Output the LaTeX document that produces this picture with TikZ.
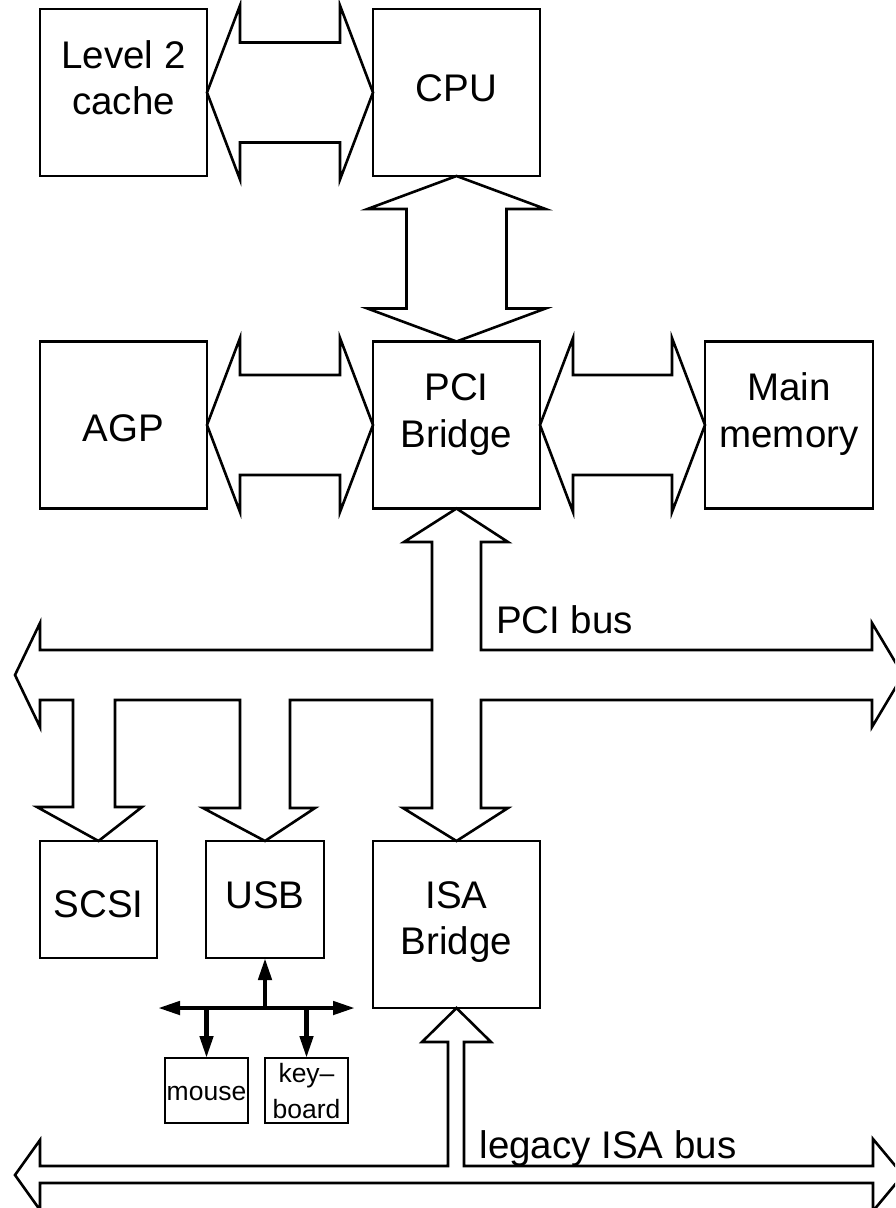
\documentclass[tikz,border=0pt]{standalone}
\usepackage{fontspec}
\setmainfont{Liberation Sans}
\usetikzlibrary{calc,arrows.meta}

% horizontal double block arrow between two anchors on the same height
\newcommand\hblock[2]{%
  \draw[blk] let \p1=(#1), \p2=(#2) in
    (\p1) -- (\x1+33pt,\y1+87pt) -- (\x1+33pt,\y1+50pt) -- (\x2-33pt,\y1+50pt)
    -- (\x2-33pt,\y1+87pt) -- (\p2) -- (\x2-33pt,\y1-87pt) -- (\x2-33pt,\y1-50pt)
    -- (\x1+33pt,\y1-50pt) -- (\x1+33pt,\y1-87pt) -- cycle;}
% vertical double block arrow, first anchor above the second
\newcommand\vblock[2]{%
  \draw[blk] let \p1=(#1), \p2=(#2) in
    (\p1) -- (\x1+89pt,\y1-33pt) -- (\x1+50pt,\y1-33pt) -- (\x1+50pt,\y2+33pt)
    -- (\x1+89pt,\y2+33pt) -- (\p2) -- (\x1-89pt,\y2+33pt) -- (\x1-50pt,\y2+33pt)
    -- (\x1-50pt,\y1-33pt) -- (\x1-89pt,\y1-33pt) -- cycle;}

\begin{document}
\begin{tikzpicture}[x=1pt,y=-1pt,
  box/.style={draw, line width=2.6pt, inner sep=0pt, outer sep=0pt,
    minimum width=167pt, minimum height=167pt},
  sbox/.style={box, minimum width=83pt, minimum height=65pt},
  blk/.style={draw, fill=white, line width=2.6pt, line join=miter},
  txt/.style={inner sep=0pt, outer sep=0pt, anchor=base,
    font=\fontsize{38.5}{46.5}\selectfont},
  stxt/.style={txt, font=\fontsize{26.5}{36}\selectfont},
  usbln/.style={line width=4.5pt},
  >={Triangle[length=22pt,width=13pt]}]
\useasboundingbox (0,0) rectangle (895,1208);
\clip (0,0) rectangle (895,1208);

% boxes
\node[box] (l2)  at (123.5,92.5) {};
\node[box] (cpu) at (456.5,92.5) {};
\node[box] (agp) at (123.5,425) {};
\node[box] (pci) at (456.5,425) {};
\node[box, minimum width=168pt] (mm) at (789,425) {};
\node[box, minimum width=117pt, minimum height=117pt] (scsi) at (98.5,899.5) {};
\node[box, minimum width=118pt, minimum height=117pt] (usb) at (265,899.5) {};
\node[box] (isa) at (456.5,924.5) {};
\node[sbox] (mouse) at (206.5,1090.5) {};
\node[sbox] (kbd) at (306.5,1090.5) {};

% box labels
\setlength{\tabcolsep}{0pt}
\node[txt] (l2t)  at ($(l2.north)+(0,59.3)$) {\begin{tabular}[t]{c}Level 2\\cache\end{tabular}};
\node[txt] (cput) at ($(cpu.north)+(0,92)$) {CPU};
\node[txt] (agpt) at ($(agp.north)+(0,100)$) {AGP};
\node[txt] (pcit) at ($(pci.north)+(0,59)$) {\begin{tabular}[t]{c}PCI\\Bridge\end{tabular}};
\node[txt] (mmt)  at ($(mm.north)+(0,59)$) {\begin{tabular}[t]{c}Main\\memory\end{tabular}};
\node[txt] (scsit) at ($(scsi.north)+(0,76)$) {SCSI};
\node[txt] (usbt) at ($(usb.north)+(0,67)$) {USB};
\node[txt] (isat) at ($(isa.north)+(0,67)$) {\begin{tabular}[t]{c}ISA\\Bridge\end{tabular}};
\node[stxt] (mouset) at ($(mouse.north)+(0,42)$) {mouse};
\node[stxt] (kbdt) at ($(kbd.north)+(0,24)$) {\begin{tabular}[t]{c}key–\\board\end{tabular}};

% point-to-point block arrows
\hblock{l2.east}{cpu.west}
\hblock{agp.east}{pci.west}
\hblock{pci.east}{mm.west}
\vblock{cpu.south}{pci.north}

% PCI bus with its branches
\coordinate (pL) at (15,675);
\coordinate (pR) at (903,675);
\draw[blk] (pL) -- (40,623) -- (40,650) -- (432,650) -- (432,542) -- (404,542)
  -- (pci.south) -- (508,542) -- (481,542) -- (481,650) -- (872,650) -- (872,623)
  -- (pR) -- (872,727) -- (872,700) -- (481,700) -- (481,808) -- (508,808)
  -- (isa.north) -- (403,808) -- (432,808) -- (432,700) -- (290,700) -- (290,808)
  -- (315,808) -- (usb.north) -- (203,808) -- (240,808) -- (240,700) -- (115,700)
  -- (115,807) -- (142,807) -- (scsi.north) -- (37,807) -- (73,807) -- (73,700)
  -- (40,700) -- (40,727) -- cycle;
\node[txt, anchor=base west] (pcibus) at (496,633) {PCI bus};

% legacy ISA bus
\coordinate (iL) at (15,1175);
\coordinate (iR) at (903,1175);
\draw[blk] (iL) -- (40,1140) -- (40,1166) -- (448,1166) -- (448,1042) -- (422,1042)
  -- (isa.south) -- (491,1042) -- (464,1042) -- (464,1166) -- (873,1166)
  -- (873,1139) -- (iR) -- (873,1211) -- (873,1183) -- (40,1183) -- (40,1210) -- cycle;
\node[txt, anchor=base west] (isabus) at (479.5,1158) {legacy ISA bus};

% USB tree
\coordinate (hub) at (265,1008);
\coordinate (uL) at (158,1008);
\coordinate (uR) at (355,1008);
\draw[usbln, <->] (uL) -- (uR);
\draw[usbln, ->] (hub) -- (usb.south);
\draw[usbln, ->] (mouse.north |- hub) -- (mouse.north);
\draw[usbln, ->] (kbd.north |- hub) -- (kbd.north);
\end{tikzpicture}
\end{document}
